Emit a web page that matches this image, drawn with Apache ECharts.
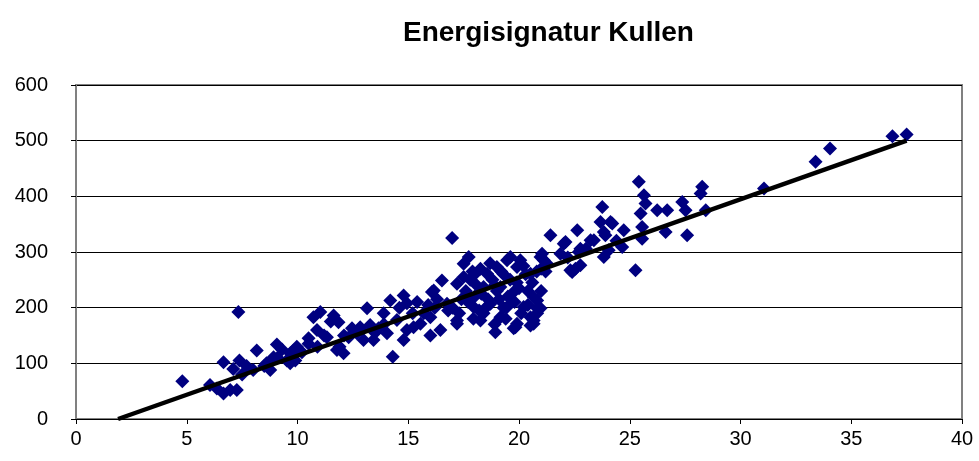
<!DOCTYPE html>
<html>
<head>
<meta charset="utf-8">
<script src="https://cdn.jsdelivr.net/npm/echarts@6/dist/echarts.min.js"></script>
<style>
  html, body { margin: 0; padding: 0; background: #fff; }
  #chart { width: 979px; height: 461px; }
</style>
</head>
<body>
<div id="chart"></div>
<script>
// utetemperatur (x) mot energi (y), 10 per rad
const xValues = [
  4.8, 6.05, 6.36, 6.66, 6.66, 6.96, 7.1, 7.26, 7.33, 7.38,
  7.5, 7.7, 8.0, 8.16, 8.5, 8.6, 8.77, 8.92, 9.07, 9.3,
  9.52, 9.67, 9.67, 9.82, 9.97, 10.2, 10.5, 10.72, 10.88, 11.03,
  11.2, 11.33, 11.63, 11.78, 11.85, 12.08, 12.31, 12.46, 12.68, 12.83,
  12.98, 13.14, 13.28, 13.43, 13.66, 13.89, 14.04, 14.19, 14.3, 14.49,
  14.79, 14.79, 14.94, 14.94, 15.24, 15.4, 15.55, 15.7, 16.0, 16.0,
  16.07, 16.15, 16.2, 16.45, 16.52, 16.75, 16.98, 17.2, 17.2, 17.2,
  17.4, 17.5, 17.6, 17.73, 17.8, 17.9, 17.94, 17.95, 18.0, 18.1,
  18.2, 18.26, 18.26, 18.4, 18.4, 18.56, 18.6, 18.71, 18.8, 18.9,
  18.93, 19.0, 19.0, 19.16, 19.16, 19.3, 19.3, 19.46, 19.46, 19.5,
  19.61, 19.76, 19.76, 19.84, 19.91, 19.91, 19.9, 20.06, 20.1, 20.21,
  20.3, 20.4, 20.52, 20.52, 20.52, 20.66, 20.66, 20.66, 20.82, 20.82,
  20.82, 20.97, 21.0, 20.97, 21.04, 21.12, 21.27, 21.42, 21.87, 22.02,
  22.2, 22.1, 22.32, 22.4, 22.55, 22.7, 22.63, 22.77, 22.77, 23.02,
  23.23, 23.38, 23.68, 23.9, 23.76, 23.83, 23.83, 24.05, 24.13, 24.21,
  24.66, 24.73, 24.4, 25.26, 25.41, 25.49, 25.56, 25.56, 25.64, 25.71,
  26.24, 26.62, 26.69, 27.37, 27.52, 27.59, 28.2, 28.27, 28.43, 31.06,
  33.39, 34.04, 36.86, 37.5, 17.0, 17.3, 17.5, 17.7, 18.0, 18.3,
  18.5, 18.7, 18.9, 19.1, 19.2, 19.4, 19.6, 19.8, 20.0, 20.2,
  20.4, 20.6, 20.8, 21.0, 21.2, 16.8, 16.3, 15.9, 15.2, 14.6,
  13.9, 13.5, 12.9, 12.1, 11.5, 10.5, 10.9, 11.9, 9.1, 9.9
];
const yValues = [
  68, 61, 55, 46, 102, 52, 90, 52, 192, 105,
  80, 95, 88, 123, 95, 100, 88, 111, 134, 125,
  105, 118, 100, 123, 130, 120, 145, 183, 160, 192,
  150, 147, 186, 124, 174, 118, 147, 163, 154, 165,
  142, 199, 169, 142, 163, 190, 154, 213, 112, 178,
  222, 142, 208, 160, 165, 210, 171, 190, 183, 150,
  228, 231, 200, 160, 249, 207, 325, 243, 177, 171,
  215, 279, 230, 291, 250, 265, 180, 201, 220, 240,
  195, 270, 177, 237, 190, 261, 215, 207, 250, 170,
  156, 273, 230, 237, 183, 260, 200, 201, 285, 220,
  291, 228, 163, 165, 273, 171, 245, 285, 190, 201,
  260, 230, 261, 183, 168, 219, 177, 171, 213, 190,
  199, 291, 270, 199, 297, 285, 279, 330, 297, 315,
  290, 318, 267, 264, 270, 300, 339, 306, 276, 306,
  321, 321, 354, 330, 381, 336, 291, 303, 354, 351,
  309, 339, 320, 267, 426, 369, 345, 324, 402, 387,
  375, 336, 375, 390, 375, 330, 405, 417, 375, 414,
  462, 486, 508, 511, 200, 190, 255, 210, 260, 225,
  200, 280, 240, 215, 265, 180, 250, 210, 235, 275,
  205, 245, 265, 230, 265, 195, 215, 205, 190, 200,
  170, 155, 160, 150, 175, 135, 130, 130, 110, 105
];
// trendlinje
const trendX = [1.9, 37.5];
const trendY = [0, 500];

const points = xValues.map((x, i) => [x, yValues[i]]);
const trend = trendX.map((x, i) => [x, trendY[i]]);

const font = 'Arial, "Liberation Sans", sans-serif';

const chart = echarts.init(document.getElementById('chart'));
chart.setOption({
  animation: false,
  backgroundColor: '#ffffff',
  title: {
    text: 'Energisignatur Kullen',
    left: 398,
    top: 14,
    textStyle: { fontFamily: font, fontSize: 28, fontWeight: 'bold', color: '#000' }
  },
  grid: {
    left: 76,
    right: 17,
    top: 85,
    bottom: 42,
    show: true,
    borderColor: '#808080',
    borderWidth: 2,
    backgroundColor: '#fff'
  },
  xAxis: {
    type: 'value',
    min: 0,
    max: 40,
    interval: 5,
    axisLine: { onZero: false, lineStyle: { color: '#000', width: 1 } },
    axisTick: { show: true, inside: false, length: 5, lineStyle: { color: '#000' } },
    axisLabel: { margin: 10, fontFamily: font, fontSize: 20, color: '#000' },
    splitLine: { show: false }
  },
  yAxis: {
    type: 'value',
    min: 0,
    max: 600,
    interval: 100,
    axisLine: { show: true, lineStyle: { color: '#808080', width: 2 } },
    axisTick: { show: true, inside: false, length: 5, lineStyle: { color: '#000' } },
    axisLabel: { margin: 28, fontFamily: font, fontSize: 20, color: '#000' },
    splitLine: { show: true, lineStyle: { color: '#000', width: 1 } }
  },
  series: [{
    name: 'Energi',
    type: 'scatter',
    symbol: 'diamond',
    symbolSize: 14,
    itemStyle: { color: '#000080', opacity: 1 },
    data: points,
    z: 2
  }, {
    name: 'Trend',
    type: 'line',
    symbol: 'none',
    lineStyle: { color: '#000', width: 4.5 },
    data: trend,
    z: 3
  }]
});
</script>
</body>
</html>
